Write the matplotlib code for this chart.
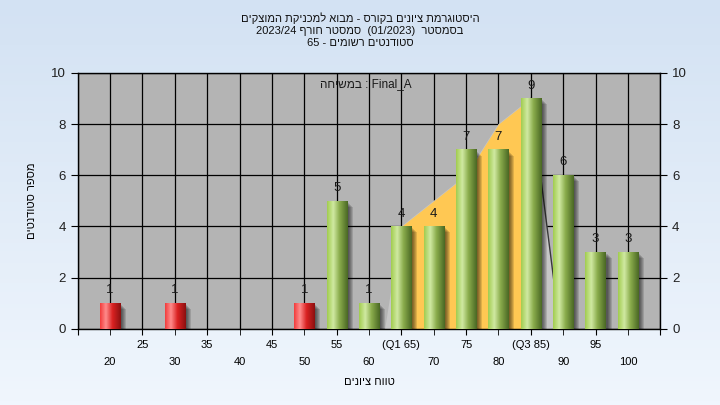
import numpy as np
import matplotlib.pyplot as plt
from matplotlib.colors import LinearSegmentedColormap
from matplotlib.transforms import offset_copy
from matplotlib.patches import Rectangle

plt.rcParams['font.family'] = ['Liberation Sans', 'DejaVu Sans']

# data
grades = [20, 30, 50, 55, 60, 65, 70, 75, 80, 85, 90, 95, 100]
counts = [1, 1, 1, 5, 1, 4, 4, 7, 7, 9, 6, 3, 3]
pass_grade = 55
q1, q3 = 65, 85
curve_x = [62.5, 65, 75, 80, 85, 89.5]
curve_y = [0, 4, 6, 8, 9, 0]

title_lines = ["היסטוגרמת ציונים בקורס - מבוא למכניקת המוצקים",
               "בסמסטר  (01/2023)  סמסטר חורף 2023/24",
               "סטודנטים רשומים - 65"]
inner_label = "Final_A : במשיחה"
xlabel = "טווח ציונים"
ylabel = "מספר סטודנטים"


def heb(s):
    # crude bidi: logical order -> visual order for an RTL paragraph
    def kind(c):
        if '\u0590' <= c <= '\u05ff':
            return 'R'
        if c.isalnum() or c in '_/.':
            return 'L'
        return 'N'
    k = [kind(c) for c in s]
    res = []
    for i in range(len(s)):
        if k[i] != 'N':
            res.append(k[i])
            continue
        prev = next((k[j] for j in range(i - 1, -1, -1) if k[j] != 'N'), 'R')
        nxt = next((k[j] for j in range(i + 1, len(s)) if k[j] != 'N'), 'R')
        res.append('L' if prev == nxt == 'L' else 'R')
    runs = []
    for c, d in zip(s, res):
        if runs and runs[-1][0] == d:
            runs[-1][1].append(c)
        else:
            runs.append([d, [c]])
    mirror = {'(': ')', ')': '('}
    out = ''
    for d, cs in reversed(runs):
        if d == 'R':
            out += ''.join(mirror.get(c, c) for c in reversed(cs))
        else:
            out += ''.join(cs)
    return out


fig = plt.figure(figsize=(7.2, 4.05), dpi=100)

# background gradient of the figure
bg = fig.add_axes([0, 0, 1, 1], zorder=-10)
bg.imshow(np.linspace(0, 1, 100).reshape(-1, 1), aspect='auto', extent=[0, 1, 0, 1],
          cmap=LinearSegmentedColormap.from_list('bg', ['#d3e2f3', '#f0f6fd']))
bg.axis('off')

ax = fig.add_axes([0.108, 0.188, 0.809, 0.632])
ax.set_facecolor('#b4b4b4')

green = LinearSegmentedColormap.from_list('g', [(0, '#a2cd50'), (0.3, '#d0e9a2'),
                                                (0.6, '#8aac4c'), (1, '#4a6824')])
red = LinearSegmentedColormap.from_list('r', [(0, '#f23c3c'), (0.28, '#ff8c8c'),
                                              (0.6, '#da2222'), (1, '#8c1010')])
grad = np.linspace(0, 1, 64).reshape(1, -1)
w = 3.1

cx = np.array(curve_x)
cy = np.array(curve_y)
ax.fill(cx, cy, color='#c6c6c6', zorder=1.5, lw=0)
ax.fill_between(cx, cy, where=(cx >= q1) & (cx <= q3), color='#ffc853', zorder=1.6, lw=0)
ax.plot(cx[-2:], cy[-2:], color='#3a3a3a', lw=1, zorder=1.7)

# soft drop shadow to the lower right of each bar
for i in range(5):
    sh = offset_copy(ax.transData, fig, x=2 + i, y=-2 - i, units='dots')
    for g, c in zip(grades, counts):
        ax.add_patch(Rectangle((g - w / 2, 0), w, c, transform=sh, color='black',
                               alpha=0.13, lw=0, zorder=2))

for g, c in zip(grades, counts):
    cmap = green if g >= pass_grade else red
    ax.imshow(grad, extent=[g - w / 2, g + w / 2, 0, c], aspect='auto', cmap=cmap,
              zorder=3, interpolation='bilinear')
    ax.annotate(str(c), (g, c), xytext=(0, 5), textcoords='offset points',
                ha='center', va='bottom', fontsize=9.5, color='#1a1a1a', zorder=4)

ax.set_xlim(15, 105)
ax.set_ylim(0, 10)
ax.set_yticks(range(0, 11, 2))
ax.set_xticks(range(15, 106, 10))
ax.set_xticks(range(20, 101, 10), minor=True)
top_row = []
for v in range(15, 106, 10):
    if v in (15, 105):
        top_row.append('')
    elif v == q1:
        top_row.append('(Q1 %d)' % v)
    elif v == q3:
        top_row.append('(Q3 %d)' % v)
    else:
        top_row.append(str(v))
ax.set_xticklabels(top_row, fontsize=8)
ax.set_xticklabels([str(v) for v in range(20, 101, 10)], minor=True, fontsize=8)
ax.tick_params(axis='x', which='major', length=4, pad=4, direction='out')
ax.tick_params(axis='x', which='minor', length=4, pad=16.5, direction='out')
ax.tick_params(axis='y', length=5, right=True, labelright=True, labelsize=9.5,
               labelcolor='#202020')
ax.grid(True, which='major', color='black', lw=0.9, zorder=1)
for v in range(20, 101, 10):
    ax.axvline(v, color='black', lw=0.9, zorder=1)
ax.set_axisbelow(True)
for s in ax.spines.values():
    s.set_color('black')
    s.set_linewidth(1)

ax.text(0.494, 0.955, heb(inner_label), transform=ax.transAxes, ha='center', va='center',
        fontsize=8.5, color='#1a1a1a', zorder=5)

ax.set_xlabel(heb(xlabel), fontsize=8, labelpad=7)
ax.set_ylabel(heb(ylabel), fontsize=8)
ax.yaxis.set_label_coords(-0.07, 0.5)

for txt, y in zip(title_lines, [0.955, 0.923, 0.893]):
    fig.text(0.5, y, heb(txt), ha='center', va='center', fontsize=8, color='#101010')

fig.savefig('out.png', dpi=100)
